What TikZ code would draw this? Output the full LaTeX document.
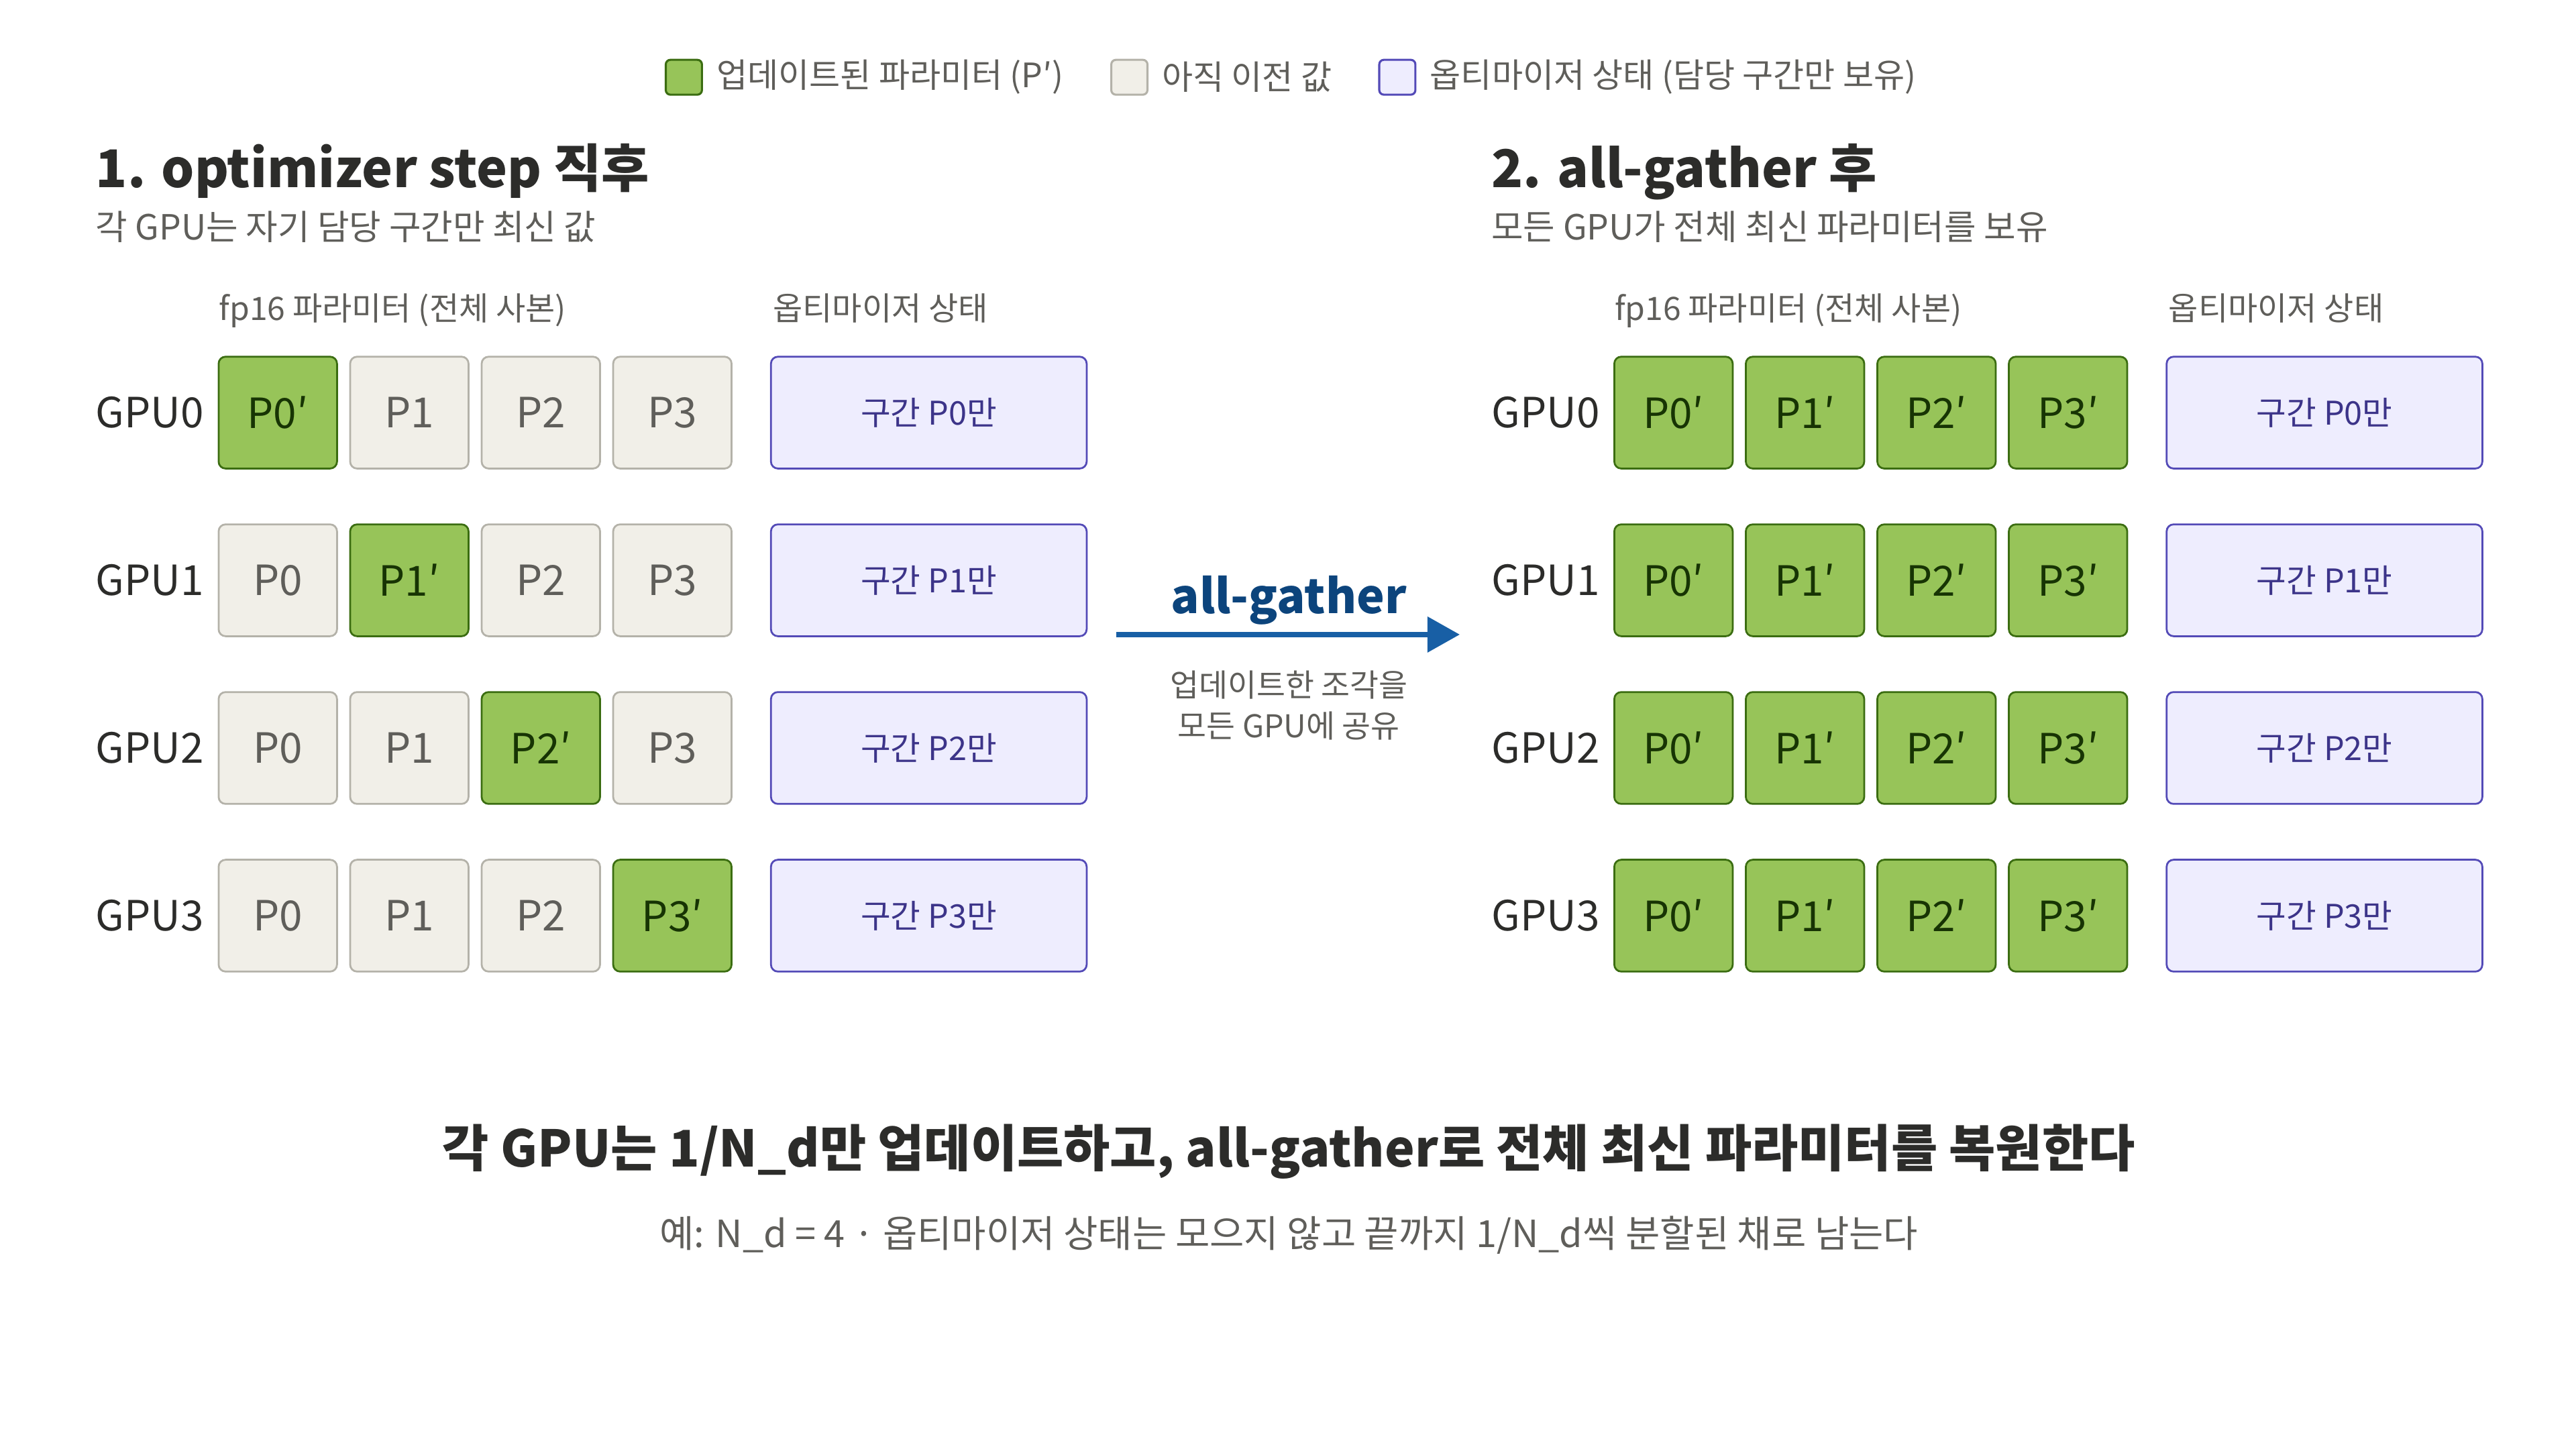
\documentclass[tikz,border=0pt]{standalone}
\usepackage{fontspec}
\setmainfont{Noto Sans CJK KR}
\usetikzlibrary{arrows.meta,positioning}

\definecolor{ink}{HTML}{2C2C2A}
\definecolor{muted}{HTML}{5F5E5A}
\definecolor{newfill}{HTML}{97C459}
\definecolor{newedge}{HTML}{3B6D11}
\definecolor{newtext}{HTML}{173404}
\definecolor{oldfill}{HTML}{F1EFE8}
\definecolor{oldedge}{HTML}{B4B2A9}
\definecolor{optfill}{HTML}{EEEDFE}
\definecolor{optedge}{HTML}{534AB7}
\definecolor{opttext}{HTML}{3C3489}
\definecolor{agline}{HTML}{185FA5}
\definecolor{agtext}{HTML}{0C447C}

\tikzset{
  cell/.style={rounded corners=3pt, line width=0.8pt, minimum width=1.8cm,
    minimum height=1.7cm, inner sep=0pt, font=\fontsize{18}{21}\selectfont},
  newcell/.style={cell, fill=newfill, draw=newedge, text=newtext},
  oldcell/.style={cell, fill=oldfill, draw=oldedge, text=muted},
  optcell/.style={cell, minimum width=4.8cm, fill=optfill, draw=optedge,
    text=opttext, font=\fontsize{14.1}{16}\selectfont},
  gpulabel/.style={anchor=west, inner sep=0pt, text=ink,
    font=\fontsize{18}{21}\selectfont},
  colhead/.style={anchor=base west, inner sep=0pt, text=muted,
    font=\fontsize{13.95}{16}\selectfont},
  paneltitle/.style={anchor=base west, inner sep=0pt, text=ink,
    font=\bfseries\fontsize{22.5}{27}\selectfont},
  panelsub/.style={anchor=base west, inner sep=0pt, text=muted,
    font=\fontsize{15}{17}\selectfont},
  keybox/.style={rounded corners=2pt, line width=0.9pt, minimum width=0.55cm,
    minimum height=0.53cm, inner sep=0pt},
  keytext/.style={anchor=west, inner sep=0pt, text=muted,
    font=\fontsize{14.55}{17}\selectfont}
}

\begin{document}
\begin{tikzpicture}[x=0.025cm,y=-0.025cm]
\useasboundingbox (0,0) rectangle (1567,881.4);

% legend
\node[keybox, fill=newfill, draw=newedge] (knew) at (416,47) {};
\node[keytext, right=5.7pt of knew] (knewt) {업데이트된 파라미터 (P′)};
\node[keybox, fill=oldfill, draw=oldedge] (kold) at (687,47) {};
\node[keytext, right=5.7pt of kold] (koldt) {아직 이전 값};
\node[keybox, fill=optfill, draw=optedge] (kopt) at (850,47) {};
\node[keytext, right=5.7pt of kopt] (koptt) {옵티마이저 상태 (담당 구간만 보유)};

% 1. right after the step
\node[paneltitle] (t1) at (58,114) {1. optimizer step 직후};
\node[panelsub] (s1) at (58,146) {각 GPU는 자기 담당 구간만 최신 값};
\node[colhead] (h1) at (133,195) {fp16 파라미터 (전체 사본)};
\node[colhead] (h1o) at (470,195) {옵티마이저 상태};
\foreach \r in {0,...,3} {
  \node[gpulabel] (ag\r) at (58,251+102*\r) {GPU\r};
  \foreach \c in {0,...,3} {
    \ifnum\r=\c
      \node[newcell] (a\r\c) at (169+80*\c,251+102*\r) {P\c′};
    \else
      \node[oldcell] (a\r\c) at (169+80*\c,251+102*\r) {P\c};
    \fi
  }
  \node[optcell] (ao\r) at (565,251+102*\r) {구간 P\r{}만};
}

% all-gather
\coordinate (agfrom) at (679,386);
\coordinate (agto) at (888,386);
\draw[line width=2.4pt, agline, -{Triangle[length=14pt,width=15pt]}]
  (agfrom) -- (agto);
\node[anchor=base, text=agtext, font=\bfseries\fontsize{20.4}{24}\selectfont]
  (agname) at (784,373) {all-gather};
\node[anchor=north, align=center, text=muted,
  font=\fontsize{13.55}{17.8}\selectfont] (agnote) at (784,403)
  {업데이트한 조각을\\모든 GPU에 공유};

% 2. after all-gather
\node[paneltitle] (t2) at (907,114) {2. all-gather 후};
\node[panelsub] (s2) at (907,146) {모든 GPU가 전체 최신 파라미터를 보유};
\node[colhead] (h2) at (982,195) {fp16 파라미터 (전체 사본)};
\node[colhead] (h2o) at (1319,195) {옵티마이저 상태};
\foreach \r in {0,...,3} {
  \node[gpulabel] (bg\r) at (907,251+102*\r) {GPU\r};
  \foreach \c in {0,...,3}
    \node[newcell] (b\r\c) at (1018+80*\c,251+102*\r) {P\c′};
  \node[optcell] (bo\r) at (1414,251+102*\r) {구간 P\r{}만};
}

% summary
\node[anchor=base, text=ink, font=\bfseries\fontsize{21.85}{26}\selectfont]
  (sum) at (784,710)
  {각 GPU는 1/N\_d만 업데이트하고, all-gather로 전체 최신 파라미터를 복원한다};
\node[anchor=base, text=muted, font=\fontsize{16.2}{19}\selectfont]
  (note) at (784,759)
  {예: N\_d = 4 · 옵티마이저 상태는 모으지 않고 끝까지 1/N\_d씩 분할된 채로 남는다};

\end{tikzpicture}
\end{document}
